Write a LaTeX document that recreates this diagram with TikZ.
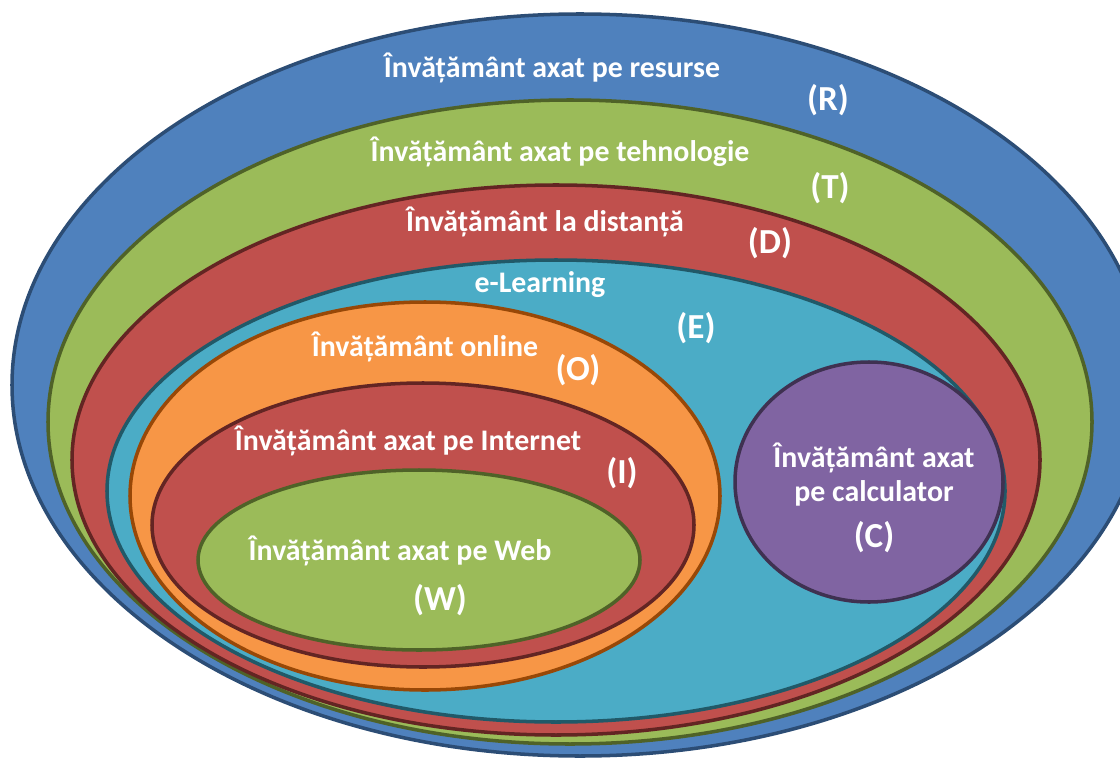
\documentclass[tikz,border=0pt]{standalone}
\usepackage{fontspec}
\setmainfont{Carlito}
\usepackage{tikz}
\usetikzlibrary{calc}
\definecolor{resblue}{HTML}{4F81BD}
\definecolor{resblueD}{HTML}{2C4D75}
\definecolor{tehgreen}{HTML}{9BBB59}
\definecolor{tehgreenD}{HTML}{4F6228}
\definecolor{disred}{HTML}{C0504D}
\definecolor{disredD}{HTML}{632523}
\definecolor{elcyan}{HTML}{4BACC6}
\definecolor{elcyanD}{HTML}{215968}
\definecolor{onorange}{HTML}{F79646}
\definecolor{onorangeD}{HTML}{984807}
\definecolor{calpurple}{HTML}{8064A2}
\definecolor{calpurpleD}{HTML}{3F3151}
\tikzset{
  ring/.style={line width=3pt},
  title/.style={text=white,font=\fontsize{25.5}{29}\selectfont\bfseries,inner sep=0pt},
  tag/.style={text=white,font=\fontsize{30}{34}\selectfont\bfseries,inner sep=0pt}
}

\begin{document}
\begin{tikzpicture}[line cap=round,line join=round,x=0.03cm,y=-0.03cm]
			\useasboundingbox (0,0) rectangle (1120,758);
			\clip (0,0) rectangle (1120,758);
			\draw [ring,fill=resblue,draw=resblueD] (580,385) ellipse (568 and 371);
			\draw [ring,fill=tehgreen,draw=tehgreenD] (570,422) ellipse (522 and 322);
			\draw [ring,fill=disred,draw=disredD] (556,460) ellipse (484 and 275);
			\draw [ring,fill=elcyan,draw=elcyanD] (556,491) ellipse (449 and 231);
			\draw [ring,fill=onorange,draw=onorangeD] (425,496) ellipse (295 and 194);
			\draw [ring,fill=disred,draw=disredD] (423,525) ellipse (271 and 142);
			\draw [ring,fill=tehgreen,draw=tehgreenD] (419,560) ellipse (221 and 90);
			\draw [ring,fill=calpurple,draw=calpurpleD] (869,482) ellipse (134 and 120);
			% etichete
			\node[title] (resTxt) at (552,68) {Învățământ axat pe resurse};
			\node[tag] (resTag) at (828,100) {(R)};
			\node[title] (tehTxt) at (560,152) {Învățământ axat pe tehnologie};
			\node[tag] (tehTag) at (830,188) {(T)};
			\node[title] (disTxt) at (545,222) {Învățământ la distanță};
			\node[tag] (disTag) at (770,243) {(D)};
			\node[title] (elTxt) at (540,285) {e-Learning};
			\node[tag] (elTag) at (696,328) {(E)};
			\node[title] (onTxt) at (425,347) {Învățământ online};
			\node[tag] (onTag) at (578,370) {(O)};
			\node[title] (intTxt) at (408,441) {Învățământ axat pe Internet};
			\node[tag] (intTag) at (622,473) {(I)};
			\node[title] (webTxt) at (400,551) {Învățământ axat pe Web};
			\node[tag] (webTag) at (440,600) {(W)};
			\node[title,align=center] (calTxt) at (874,475) {Învățământ axat\\pe calculator};
			\node[tag] (calTag) at (874,537) {(C)};
		\end{tikzpicture}
\end{document}
